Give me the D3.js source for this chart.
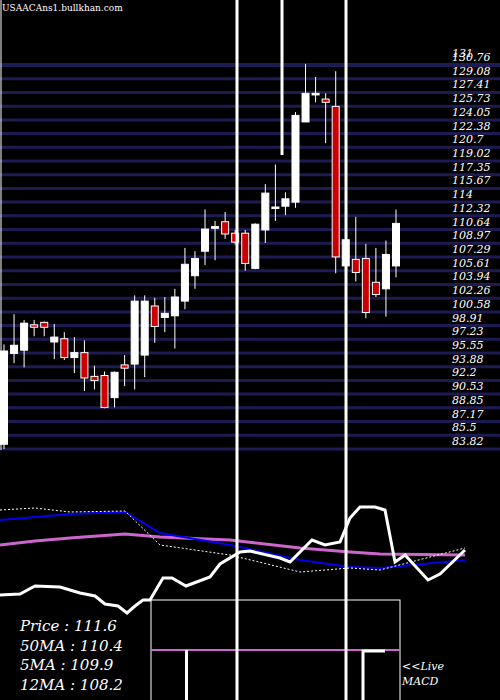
<!DOCTYPE html>
<html><head><meta charset="utf-8">
<script src="https://cdn.jsdelivr.net/npm/d3@7"></script>
<style>body{margin:0;background:#000}svg{display:block}</style>
</head><body><svg id="c" width="500" height="700"></svg>
<script>
const priceTicks=[130.76,129.08,127.41,125.73,124.05,122.38,120.7,119.02,117.35,115.67,114,112.32,110.64,108.97,107.29,105.61,103.94,102.26,100.58,98.91,97.23,95.55,93.88,92.2,90.53,88.85,87.17,85.5,83.82];
const opens=[84.4,95.5,95.9,99.0,99.3,96.9,97.3,95.0,95.6,92.7,92.8,90.1,94.1,94.2,95.3,101.3,99.9,100.1,101.9,105.0,108.0,110.8,111.6,110.2,110.2,105.9,110.6,113.4,113.5,114.0,123.8,127.1,126.6,125.7,106.2,107.0,107.1,104.2,103.4,106.2];
const closes=[95.8,96.5,99.2,98.7,98.7,97.5,95.0,95.6,92.5,92.2,88.9,93.2,93.7,101.9,101.9,98.8,100.4,102.4,106.4,107.1,110.7,111.0,110.1,109.1,106.5,111.3,115.1,113.4,114.4,124.6,127.3,127.3,126.2,107.3,109.4,105.4,100.5,102.7,107.6,111.4];
const highs=[96.6,100.3,99.6,99.6,99.4,99.1,98.1,97.5,97.1,94.0,93.3,93.3,95.3,102.6,102.6,102.3,102.4,103.4,108.4,108.0,113.1,111.7,112.8,110.6,110.6,111.4,116.2,118.6,115.2,125.0,130.9,129.3,127.3,130.0,110.0,112.2,108.9,108.4,109.3,113.1];
const lows=[83.8,94.3,93.8,97.6,97.6,94.8,94.7,93.1,90.9,91.1,88.8,88.9,91.5,91.1,92.6,96.8,98.1,96.1,100.9,103.4,106.3,106.9,109.5,108.8,105.6,105.8,109.0,111.7,112.4,113.3,123.8,126.2,121.2,105.3,105.5,104.3,99.8,102.4,100.0,104.8];
// lower indicator panel (value units, 0 = panel bottom)
const oscX=[0,20,35,60,80,95,105,118,127,135,143,150,163,172,186,210,220,240,250,280,290,312,325,340,350,360,375,385,395,405,428,440,465];
const oscV=[105,106,114,113,107,104,96,94,87,94,100,100,122,122,114,123,136,148,149,142,138,160,155,158,182,193,193,190,138,145,120,126,150];
const maX=[0,35,70,125,160,230,300,350,380,465];
const ma5=[190,192,188,189,155,145,128,132,130,152];
const ma12=[180,183,186,188,167,155,140,133,132,140];
const ma50=[155,159,162,166,163,160,152,148,146,145];
const spikes=[{x:237,y0:0,y1:700},{x:282,y0:0,y1:155},{x:346,y0:0,y1:700}];
const infoLabels=["Price   : 111.6","50MA : 110.4","5MA : 109.9","12MA : 108.2"];

const svg=d3.select("#c");
const y=d3.scaleLinear().domain([83.82,130.76]).range([449,65]);
const x=d3.scaleLinear().domain([0,39]).range([4,396]);
svg.append("rect").attr("width",500).attr("height",700).attr("fill","#000");
svg.selectAll(".g").data(priceTicks).enter().append("line")
 .attr("x1",0).attr("x2",500).attr("y1",d=>y(d)).attr("y2",d=>y(d))
 .attr("stroke","#1c1c52").attr("stroke-width",(d,i)=>i==0?4:3);
svg.selectAll(".t").data(priceTicks).enter().append("text")
 .attr("x",452).attr("y",d=>y(d)-4).text(d=>d)
 .attr("fill","#fff").attr("font-family","DejaVu Serif").attr("font-style","italic").attr("font-size",11);
svg.append("text").attr("x",452).attr("y",57).text("131").attr("fill","#fff").attr("font-family","DejaVu Serif").attr("font-style","italic").attr("font-size",11);
svg.append("text").attr("x",2).attr("y",11).text("USAACAns1.bullkhan.com").attr("fill","#fff").attr("font-family","DejaVu Serif").attr("font-size",9);
svg.append("line").attr("x1",1).attr("x2",1).attr("y1",0).attr("y2",450).attr("stroke","#fff").attr("stroke-width",1);
const c=svg.selectAll(".c").data(opens).enter().append("g");
c.append("line").attr("x1",(d,i)=>x(i)).attr("x2",(d,i)=>x(i)).attr("y1",(d,i)=>y(highs[i])).attr("y2",(d,i)=>y(lows[i])).attr("stroke","#fff").attr("stroke-width",1);
c.append("rect").attr("x",(d,i)=>x(i)-3.5).attr("width",7)
 .attr("y",(d,i)=>y(Math.max(d,closes[i]))).attr("height",(d,i)=>Math.max(1.5,Math.abs(y(d)-y(closes[i]))))
 .attr("fill",(d,i)=>closes[i]>=d?"#fff":"#cc0000").attr("stroke","#fff").attr("stroke-width",1);
// lower panel
const py=d3.scaleLinear().domain([0,220]).range([700,480]);
const ln=(xs,vs)=>d3.line().x((d,i)=>xs[i]).y(d=>py(d))(vs);
svg.append("path").attr("d",ln(maX,ma50)).attr("fill","none").attr("stroke","#cc66cc").attr("stroke-width",3);
svg.append("path").attr("d",ln(maX,ma12)).attr("fill","none").attr("stroke","#0000ee").attr("stroke-width",2);
svg.append("path").attr("d",ln(maX,ma5)).attr("fill","none").attr("stroke","#fff").attr("stroke-width",1).attr("stroke-dasharray","2,2");
svg.append("path").attr("d",ln(oscX,oscV)).attr("fill","none").attr("stroke","#fff").attr("stroke-width",3);
svg.append("rect").attr("x",151).attr("y",600).attr("width",249).attr("height",110).attr("fill","none").attr("stroke","#fff").attr("stroke-width",1);
svg.append("line").attr("x1",151).attr("x2",400).attr("y1",650).attr("y2",650).attr("stroke","#cc66cc").attr("stroke-width",2);
svg.append("path").attr("d","M186.5,700V650").attr("stroke","#fff").attr("stroke-width",3);
svg.append("path").attr("d","M363,700V651H385").attr("stroke","#fff").attr("stroke-width",3).attr("fill","none");
svg.selectAll(".sp").data(spikes).enter().append("line").attr("x1",d=>d.x).attr("x2",d=>d.x).attr("y1",d=>d.y0).attr("y2",d=>d.y1).attr("stroke","#fff").attr("stroke-width",3);
svg.selectAll(".inf").data(infoLabels).enter().append("text").attr("x",20).attr("y",(d,i)=>631+i*19.5).text(d=>d)
 .attr("fill","#fff").attr("font-family","DejaVu Serif").attr("font-style","italic").attr("font-size",15);
svg.append("text").attr("x",402).attr("y",670).text("<<Live").attr("fill","#fff").attr("font-family","DejaVu Serif").attr("font-style","italic").attr("font-size",11);
svg.append("text").attr("x",402).attr("y",685).text("MACD").attr("fill","#fff").attr("font-family","DejaVu Serif").attr("font-style","italic").attr("font-size",11);
</script></body></html>
